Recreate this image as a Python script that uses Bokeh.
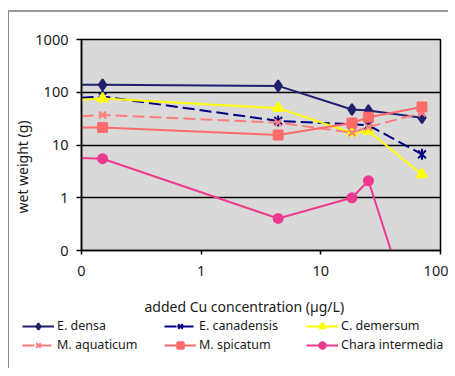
import numpy as np
from bokeh.plotting import figure
from bokeh.models import FixedTicker, Legend, LegendItem, ColumnDataSource, Title, Label, Range1d
from bokeh.embed import file_html
from bokeh.resources import INLINE

# ---- data (added Cu concentration in ug/L; 0.1 = the "0" control at the axis origin)
conc = [0.1, 0.15, 4.4, 18.2, 25, 70]
densa = [138, 138, 132, 47, 45, 33]
canadensis = [79, 83, 28.6, 24.7, 23.7, 6.65]
demersum = [72, 76, 50, 17.1, 18.5, 2.77]
aquaticum = [35, 37, 26.6, 17.1, 22, 40.5]
spicatum = [21.4, 21.4, 15.5, 26.2, 33.6, 52.7]
chara = [5.7, 5.5, 0.405, 1.0, 2.1, 0.0015]

x_ticks = [0.1, 1, 10, 100]
x_tick_labels = ["0", "1", "10", "100"]
y_ticks = [0.1, 1, 10, 100, 1000]
y_tick_labels = ["0", "1", "10", "100", "1000"]

FONT = "Noto Sans"

p = figure(frame_width=359, frame_height=211, x_axis_type="log", y_axis_type="log",
           x_range=(0.1, 100), y_range=(0.1, 1000),
           output_backend="svg", toolbar_location=None,
           min_border_left=81, min_border_right=8, min_border_top=39, min_border_bottom=40)

# thin grey chart-area border (top and left) drawn behind the transparent canvas margin
p.styles = {"background":
            "linear-gradient(#9a9a9a, #9a9a9a) 8px 10px / 100% 2px no-repeat, "
            "linear-gradient(#8a8a8a, #8a8a8a) 8px 10px / 1px 100% no-repeat"}

p.background_fill_color = "#d9d9d9"
p.border_fill_alpha = 0
p.outline_line_color = "black"
p.outline_line_width = 1.5

p.xgrid.visible = False
p.ygrid.grid_line_color = "black"
p.ygrid.grid_line_width = 1.5
p.ygrid.ticker = FixedTicker(ticks=y_ticks)

p.xaxis.ticker = FixedTicker(ticks=x_ticks)
p.yaxis.ticker = FixedTicker(ticks=y_ticks)
p.xaxis.major_label_overrides = dict(zip(x_ticks, x_tick_labels))
p.yaxis.major_label_overrides = dict(zip(y_ticks, y_tick_labels))
for ax in (p.xaxis, p.yaxis):
    ax.axis_line_color = "black"
    ax.axis_line_width = 1.5
    ax.major_tick_line_color = "black"
    ax.major_tick_line_width = 1.5
    ax.major_tick_in = 0
    ax.minor_tick_line_color = None
    ax.major_label_text_font = FONT
    ax.major_label_text_font_size = "14.5px"
    ax.major_label_text_color = "#1a1a1a"
p.xaxis.major_tick_out = 4
p.yaxis.major_tick_out = 5
p.xaxis.major_label_standoff = 11
p.yaxis.major_label_standoff = 8

p.add_layout(Title(text="wet weight (g)", align="left", offset=37, standoff=0,
                   text_font=FONT, text_font_size="14px", text_font_style="normal",
                   text_color="#1a1a1a", vertical_align="middle"), "left")

series = [
    ("E. densa", densa, "#20206e", None, ["diamond"], 11),
    ("E. canadensis", canadensis, "#000080", "12 5", ["x", "dash"], 11),
    ("C. demersum", demersum, "#ffff00", None, ["triangle"], 10),
    ("M. aquaticum", aquaticum, "#ff7c7c", "12 5", ["x"], 10),
    ("M. spicatum", spicatum, "#ff6a6a", None, ["square"], 9),
    ("Chara intermedia", chara, "#ee3a8e", None, ["circle"], 9),
]

# strip below the chart: axis title and legend (same series, outside its view range)
p2 = figure(width=448, height=78, x_range=Range1d(1000, 2000), y_range=Range1d(1000, 2000),
            x_axis_location=None, y_axis_location=None,
            output_backend="svg", toolbar_location=None,
            min_border_left=0, min_border_right=0, min_border_top=0, min_border_bottom=0)
p2.styles = {"background": "linear-gradient(#8a8a8a, #8a8a8a) 8px 0px / 1px 100% no-repeat"}
p2.grid.visible = False
p2.outline_line_color = None
p2.background_fill_alpha = 0
p2.border_fill_alpha = 0

items = []
for name, vals, color, dash, markers, size in series:
    src = ColumnDataSource(dict(x=conc, y=vals))
    msrc = ColumnDataSource(dict(x=conc[1:], y=vals[1:]))
    ld = dash if dash else "solid"
    p.line("x", "y", source=src, line_color=color, line_width=2, line_dash=ld)
    rs = [p2.line("x", "y", source=src, line_color=color, line_width=2, line_dash=ld)]
    for m in markers:
        kw = dict(marker=m, size=size, line_color=color, fill_color=color, line_width=2)
        if m == "dash":
            kw["angle"] = np.pi / 2
        p.scatter("x", "y", source=msrc, **kw)
        rs.append(p2.scatter("x", "y", source=msrc, **kw))
    items.append(LegendItem(label=name, renderers=rs))

cols_x = [22, 164, 306]
for i, lx in enumerate(cols_x):
    leg = Legend(items=[items[i], items[i + 3]], location=(lx, 15),
                 orientation="vertical", padding=0, margin=0, spacing=2,
                 glyph_width=32, glyph_height=16, label_height=16, label_standoff=3,
                 label_text_font=FONT, label_text_font_size="12.5px",
                 label_text_color="#1a1a1a",
                 border_line_color=None, background_fill_alpha=0)
    p2.add_layout(leg, "center")

p2.add_layout(Label(x=243.8, y=62.5, x_units="screen", y_units="screen",
                    text="added Cu concentration (µg/L)", text_font=FONT,
                    text_font_size="14px", text_align="center", text_baseline="middle",
                    text_color="#1a1a1a"))

open("out.html", "w").write(file_html([p, p2], INLINE))
